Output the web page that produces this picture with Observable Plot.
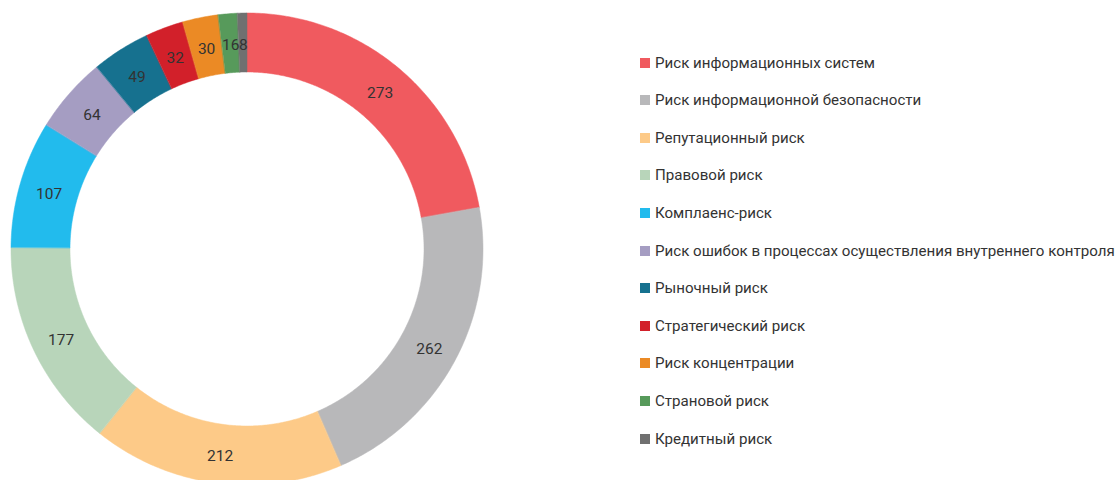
<!DOCTYPE html>
<html>
<head>
<meta charset="utf-8">
<script src="https://cdn.jsdelivr.net/npm/d3@7"></script>
<script src="https://cdn.jsdelivr.net/npm/@observablehq/plot@0.6"></script>
<style>
  html, body { margin: 0; padding: 0; background: #fff; }
  #wrap { position: relative; width: 1120px; height: 480px; overflow: hidden; font-family: Roboto, "Noto Sans", sans-serif; }
  #chart { position: absolute; left: 0; top: 0; }
  #legend { position: absolute; left: 0; top: 0; }
  .item { position: absolute; left: 640px; height: 20px; display: flex; align-items: center; white-space: nowrap; font-size: 15.1px; color: #333; }
  .sw { width: 10px; height: 10px; margin-right: 5px; flex: none; }
</style>
</head>
<body>
<div id="wrap"><div id="chart"></div><div id="legend"></div></div>
<script>
const categories = [
  "Риск информационных систем",
  "Риск информационной безопасности",
  "Репутационный риск",
  "Правовой риск",
  "Комплаенс-риск",
  "Риск ошибок в процессах осуществления внутреннего контроля",
  "Рыночный риск",
  "Стратегический риск",
  "Риск концентрации",
  "Страновой риск",
  "Кредитный риск"
];
const values = [273, 262, 212, 177, 107, 64, 49, 32, 30, 16, 8];
const colors = ["#F05A5F", "#B8B8BA", "#FDCA88", "#B8D5BA", "#22BBED", "#A59DC2", "#16718F", "#D2202A", "#EB8A25", "#579A5B", "#707070"];

// geometry (pixels)
const W = 1120, H = 480, CX = 247, CY = 249, R = 236, RIN = 177;
const inner = RIN / R;

const rows = categories.map((name, i) => ({name, value: values[i]}));
const pie = d3.pie().value(d => d.value).sort(null)(rows);

const pts = [];
for (const a of pie) {
  const n = Math.max(4, Math.ceil((a.endAngle - a.startAngle) / 0.01));
  for (let k = 0; k <= n; k++) {
    const t = a.startAngle + (a.endAngle - a.startAngle) * k / n;
    pts.push({name: a.data.name, ox: Math.sin(t), oy: Math.cos(t), ix: inner * Math.sin(t), iy: inner * Math.cos(t)});
  }
}
const mid = (1 + inner) / 2;
const labels = pie.map(a => {
  const t = (a.startAngle + a.endAngle) / 2;
  return {label: String(a.data.value), x: mid * Math.sin(t), y: mid * Math.cos(t)};
});

const plot = Plot.plot({
  width: W, height: H,
  margin: 0,
  x: {domain: [-CX / R, (W - CX) / R], axis: null},
  y: {domain: [-(H - CY) / R, CY / R], axis: null},
  color: {domain: categories, range: colors},
  style: {fontFamily: "Roboto, 'Noto Sans', sans-serif", background: "#fff"},
  marks: [
    Plot.area(pts, {x1: "ox", y1: "oy", x2: "ix", y2: "iy", z: "name", fill: "name", stroke: "name", strokeWidth: 0.5}),
    Plot.text(labels, {x: "x", y: "y", text: "label", fontSize: 15.5, dy: 1.5, fill: "#333"})
  ]
});
document.getElementById("chart").appendChild(plot);

const legend = document.getElementById("legend");
const rowTop = 62.5, rowStep = 37.6;
categories.forEach((c, i) => {
  const el = document.createElement("div");
  el.className = "item";
  el.style.top = (rowTop + i * rowStep - 10) + "px";
  const sw = document.createElement("span");
  sw.className = "sw";
  sw.style.background = colors[i];
  const tx = document.createElement("span");
  tx.textContent = c;
  el.appendChild(sw); el.appendChild(tx);
  legend.appendChild(el);
});
</script>
</body>
</html>
